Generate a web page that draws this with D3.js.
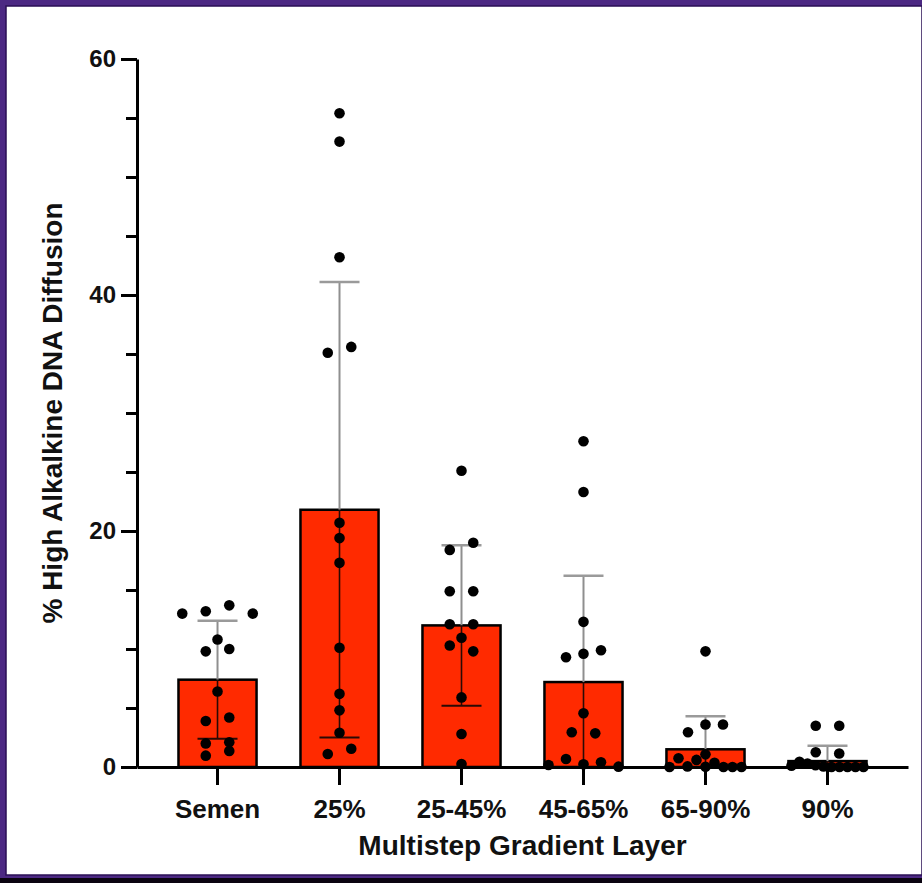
<!DOCTYPE html>
<html>
<head>
<meta charset="utf-8">
<script src="https://cdn.jsdelivr.net/npm/d3@7"></script>
<style>
  html, body { margin: 0; padding: 0; background: #000; }
  svg { display: block; }
  .axis path, .axis line { stroke: #000; }
  .axis text { font-family: "Liberation Sans", Arial, sans-serif; font-weight: 700; fill: #111; }
  .axis-label { font-family: "Liberation Sans", Arial, sans-serif; font-weight: 700; fill: #111; }
</style>
</head>
<body>
<div id="chart"></div>
<script>
// categories + summary values (mean, SD)
const categories = ["Semen", "25%", "25-45%", "45-65%", "65-90%", "90%"];
const meanValues = [7.4, 21.8, 12.0, 7.2, 1.5, 0.5];
const sdValues   = [5.0, 19.3, 6.8, 9.0, 2.8, 1.3];

// individual replicates per layer
const semenPoints = [13.0, 13.2, 13.7, 13.0, 10.8, 9.8, 10.0, 6.4, 3.9, 4.2, 2.0, 2.1, 0.96, 1.36];
const pct25Points = [55.4, 53.0, 43.2, 35.1, 35.6, 20.7, 19.4, 17.3, 10.1, 6.2, 4.8, 2.9, 1.1, 1.55];
const pct25to45Points = [25.1, 18.4, 19.0, 14.9, 14.9, 12.1, 12.1, 10.95, 10.3, 9.8, 5.9, 2.8, 0.25];
const pct45to65Points = [27.6, 23.3, 12.3, 9.3, 9.6, 9.9, 4.55, 2.95, 2.85, 0.17, 0.68, 0.23, 0.4, 0.03];
const pct65to90Points = [9.8, 2.95, 3.6, 3.6, 1.07, 0, 0.74, 0.05, 0.6, 0.02, 0.36, 0, 0, 0];
const pct90Points = [3.5, 3.5, 1.25, 1.15, 0.1, 0.45, 0.3, 0.15, 0.05, 0, 0, 0, 0, 0];
const pointSets = [semenPoints, pct25Points, pct25to45Points, pct45to65Points, pct65to90Points, pct90Points];

const yMajorTicks = [0, 20, 40, 60];
const yMinorTicks = [5, 10, 15, 25, 30, 35, 45, 50, 55];

(function() {
  const fullW = 922, fullH = 883;
  const margin = { top: 59, right: 14, bottom: 116, left: 137 };
  const W = fullW - margin.left - margin.right;
  const H = fullH - margin.top - margin.bottom;

  const svg = d3.select("#chart")
    .append("svg")
    .attr("width", fullW)
    .attr("height", fullH);

  // purple frame of the screenshot
  svg.append("rect").attr("width", fullW).attr("height", fullH).attr("fill", "#4c2983");
  svg.append("rect").attr("y", 878).attr("width", fullW).attr("height", 5).attr("fill", "#0a0410");
  svg.append("rect")
    .attr("x", 6).attr("y", 6)
    .attr("width", fullW - 6).attr("height", 869)
    .attr("fill", "#fff")
    .attr("stroke", "#2a0f55").attr("stroke-width", 1.5);

  const g = svg.append("g").attr("transform", `translate(${margin.left},${margin.top})`);

  const x = d3.scaleBand().domain(categories).range([0, W]).paddingInner(0.36).paddingOuter(0.34);
  const y = d3.scaleLinear().domain([0, 60]).range([H, 0]);

  const rowGap = 10, maxSpread = 72, dotR = 5.3;

  // Prism-like column scatter: bin close values into rows, spread each row
  function arrange(values) {
    const pts = values.map((v, i) => ({ v, i, dx: 0 }));
    const sorted = pts.slice().sort((a, b) => a.v - b.v || a.i - b.i);
    const rows = [];
    let cur = null;
    sorted.forEach(p => {
      if (cur && y(cur[0].v) - y(p.v) < rowGap) cur.push(p);
      else { cur = [p]; rows.push(cur); }
    });
    rows.forEach(row => {
      row.sort((a, b) => a.i - b.i);
      const n = row.length;
      const step = n < 2 ? 0 : Math.min(n % 2 ? 17.5 : 23.5, maxSpread / (n - 1));
      row.forEach((p, k) => { p.dx = (k - (n - 1) / 2) * step; });
    });
    return pts;
  }

  const summary = categories.map((c, i) => ({ cat: c, mean: meanValues[i], sd: sdValues[i] }));

  // bars
  g.selectAll(".bar")
    .data(summary)
    .enter()
    .append("rect")
    .attr("class", "bar")
    .attr("x", d => x(d.cat))
    .attr("width", x.bandwidth())
    .attr("y", d => y(d.mean))
    .attr("height", d => y(0) - y(d.mean))
    .attr("fill", "#ff2a00")
    .attr("stroke", "#000")
    .attr("stroke-width", 2.5);

  // error bars (mean +/- SD)
  const capW = 40;
  const eb = g.selectAll(".errbar").data(summary).enter().append("g").attr("class", "errbar")
    .attr("transform", d => `translate(${x(d.cat) + x.bandwidth() / 2},0)`);

  eb.append("line")
    .attr("y1", d => y(d.mean)).attr("y2", d => y(d.mean + d.sd))
    .attr("stroke", "#8f8f8f").attr("stroke-width", 2);
  eb.append("line")
    .attr("x1", -capW / 2).attr("x2", capW / 2)
    .attr("y1", d => y(d.mean + d.sd)).attr("y2", d => y(d.mean + d.sd))
    .attr("stroke", "#9a9a9a").attr("stroke-width", 2.5);
  eb.append("line")
    .attr("y1", d => y(d.mean)).attr("y2", d => y(Math.max(0, d.mean - d.sd)))
    .attr("stroke", "#2a0a04").attr("stroke-width", 1.6);
  eb.filter(d => d.mean - d.sd > 0).append("line")
    .attr("x1", -capW / 2).attr("x2", capW / 2)
    .attr("y1", d => y(d.mean - d.sd)).attr("y2", d => y(d.mean - d.sd))
    .attr("stroke", "#2a0a04").attr("stroke-width", 2);

  // axes
  const yAxisG = g.append("g").attr("class", "axis")
    .call(d3.axisLeft(y).tickValues(yMajorTicks).tickSize(16).tickSizeOuter(0).tickPadding(5));
  yAxisG.select(".domain").attr("stroke-width", 3);
  yAxisG.selectAll(".tick line").attr("stroke-width", 3);
  yAxisG.selectAll("text").style("font-size", "24px");

  const yMinorG = g.append("g").attr("class", "axis")
    .call(d3.axisLeft(y).tickValues(yMinorTicks).tickSize(11).tickFormat(""));
  yMinorG.select(".domain").remove();
  yMinorG.selectAll(".tick line").attr("stroke-width", 3);

  const xAxisG = g.append("g").attr("class", "axis")
    .attr("transform", `translate(0,${H})`)
    .call(d3.axisBottom(x).tickSize(18).tickSizeOuter(0));
  xAxisG.select(".domain").attr("stroke-width", 3);
  xAxisG.selectAll(".tick line").attr("stroke-width", 3);
  xAxisG.selectAll("text").style("font-size", "26px").attr("y", 51).attr("dy", 0);

  // points
  pointSets.forEach((vals, ci) => {
    const cx = x(categories[ci]) + x.bandwidth() / 2;
    g.append("g").selectAll("circle")
      .data(arrange(vals))
      .enter()
      .append("circle")
      .attr("cx", d => cx + d.dx)
      .attr("cy", d => y(d.v))
      .attr("r", dotR)
      .attr("fill", "#000");
  });

  // axis titles
  g.append("text")
    .attr("class", "axis-label")
    .attr("text-anchor", "middle")
    .attr("transform", `translate(${62 - margin.left},${H / 2}) rotate(-90)`)
    .style("font-size", "28px")
    .text("% High Alkalkine DNA Diffusion");

  g.append("text")
    .attr("class", "axis-label")
    .attr("text-anchor", "middle")
    .attr("x", W / 2)
    .attr("y", H + 88)
    .style("font-size", "28px")
    .text("Multistep Gradient Layer");
})();
</script>
</body>
</html>
